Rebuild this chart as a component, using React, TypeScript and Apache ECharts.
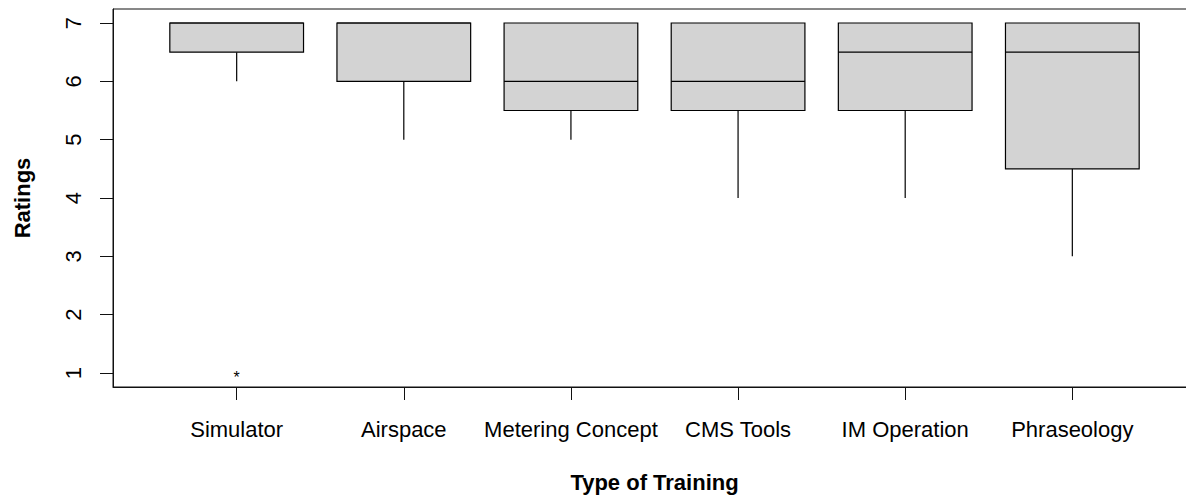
import React, { useEffect, useRef } from "react";
import * as echarts from "echarts";

const categories = ["Simulator", "Airspace", "Metering Concept", "CMS Tools", "IM Operation", "Phraseology"];
const mins = [6, 5, 5, 4, 4, 3];
const q1s = [6.5, 6, 5.5, 5.5, 5.5, 4.5];
const medians = [7, 7, 6, 6, 6.5, 6.5];
const q3s = [7, 7, 7, 7, 7, 7];
const maxs = [7, 7, 7, 7, 7, 7];
const outlierCategory = [1];
const outlierValue = [1];
const yTicks = [1, 2, 3, 4, 5, 6, 7];
const xTicks = [1, 2, 3, 4, 5, 6];

const FONT = "'Liberation Sans', Arial, sans-serif";

export default function App() {
  const ref = useRef<HTMLDivElement>(null);
  useEffect(() => {
    if (!ref.current) return;
    const chart = echarts.init(ref.current, null, { renderer: "svg" });
    const boxData = categories.map((_, i) => [i + 1, mins[i], q1s[i], medians[i], q3s[i], maxs[i]]);
    const outData = outlierCategory.map((c, i) => [c, outlierValue[i]]);
    const stroke = "#111";
    chart.setOption({
      animation: false,
      backgroundColor: "#fff",
      textStyle: { fontFamily: FONT },
      grid: {
        left: 113,
        top: 9,
        width: 1083,
        height: 380,
        show: true,
        borderColor: stroke,
        borderWidth: 1,
        backgroundColor: "transparent",
        containLabel: false,
      },
      xAxis: {
        type: "value",
        min: 0.26,
        max: 6.74,
        name: "Type of Training",
        nameLocation: "middle",
        nameGap: 84,
        nameTextStyle: { fontSize: 22, fontWeight: "bold", color: "#000", fontFamily: FONT },
        axisLine: { show: true, lineStyle: { color: stroke, width: 1 } },
        axisTick: { show: true, length: 13, customValues: xTicks, lineStyle: { color: stroke, width: 1 } },
        axisLabel: {
          show: true,
          customValues: xTicks,
          margin: 31,
          fontSize: 22,
          color: "#000",
          fontFamily: FONT,
          formatter: (v: number) => categories[Math.round(v) - 1] ?? "",
        },
        splitLine: { show: false },
      },
      yAxis: {
        type: "value",
        min: 0.76,
        max: 7.24,
        name: "Ratings",
        nameLocation: "middle",
        nameGap: 80,
        nameTextStyle: { fontSize: 22, fontWeight: "bold", color: "#000", fontFamily: FONT },
        axisLine: { show: true, lineStyle: { color: stroke, width: 1 } },
        axisTick: { show: true, length: 13, customValues: yTicks, lineStyle: { color: stroke, width: 1 } },
        axisLabel: {
          show: true,
          customValues: yTicks,
          rotate: 90,
          margin: 29,
          fontSize: 22,
          color: "#000",
          fontFamily: FONT,
          formatter: (v: number) => String(v),
        },
        splitLine: { show: false },
      },
      series: [
        {
          type: "custom",
          name: "boxes",
          data: boxData,
          encode: { x: 0, y: [1, 2, 3, 4, 5] },
          renderItem: (params: any, api: any) => {
            const x = api.value(0);
            const lo = api.coord([x, api.value(1)]);
            const q1 = api.coord([x, api.value(2)]);
            const med = api.coord([x, api.value(3)]);
            const q3 = api.coord([x, api.value(4)]);
            const hi = api.coord([x, api.value(5)]);
            const halfW = api.size([0.8, 0])[0] / 2;
            const ls = { stroke: "#000", lineWidth: 1.2 };
            return {
              type: "group",
              children: [
                { type: "line", shape: { x1: lo[0], y1: lo[1], x2: q1[0], y2: q1[1] }, style: ls },
                { type: "line", shape: { x1: q3[0], y1: q3[1], x2: hi[0], y2: hi[1] }, style: ls },
                {
                  type: "rect",
                  shape: { x: q3[0] - halfW, y: q3[1], width: 2 * halfW, height: q1[1] - q3[1] },
                  style: { fill: "#d3d3d3", stroke: "#000", lineWidth: 1.2 },
                },
                { type: "line", shape: { x1: med[0] - halfW, y1: med[1], x2: med[0] + halfW, y2: med[1] }, style: ls },
              ],
            };
          },
        },
        {
          type: "custom",
          name: "outliers",
          data: outData,
          encode: { x: 0, y: 1 },
          renderItem: (params: any, api: any) => {
            const p = api.coord([api.value(0), api.value(1)]);
            return {
              type: "text",
              x: p[0],
              y: p[1] + 4,
              style: { text: "*", fontSize: 16, fill: "#000", align: "center", verticalAlign: "middle", fontFamily: FONT },
            };
          },
        },
      ],
    });
    return () => chart.dispose();
  }, []);
  return (
    <div style={{ position: "absolute", left: 0, top: 0, width: 1186, height: 498, overflow: "hidden", background: "#fff" }}>
      <div ref={ref} style={{ width: 1210, height: 498 }} />
    </div>
  );
}
